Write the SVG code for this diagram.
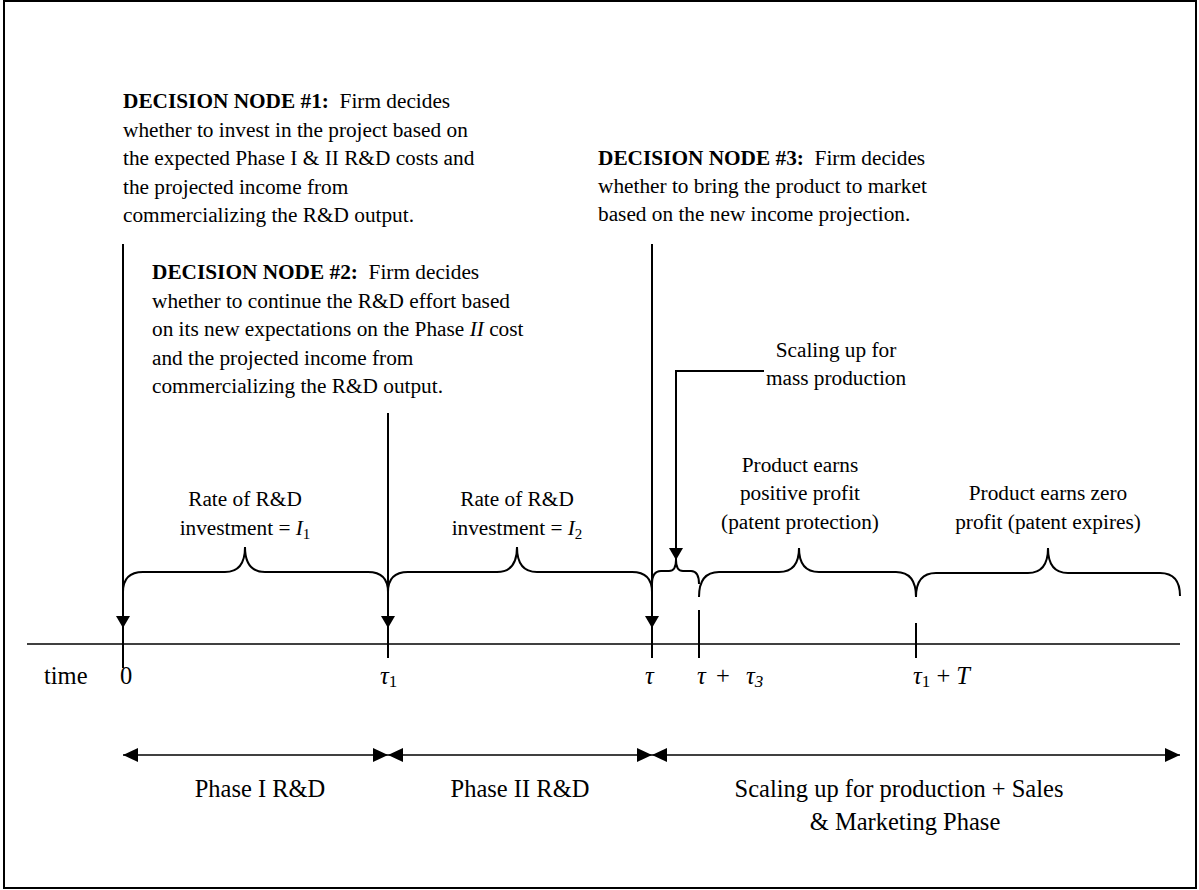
<svg xmlns="http://www.w3.org/2000/svg" width="1199" height="890" viewBox="0 0 1199 890">
<defs>
<style>
text{font-family:"Liberation Serif","Times New Roman",serif;fill:#000;white-space:pre}
.n{font-size:21.3px}
.b{font-weight:bold}
.big{font-size:24.5px}
.c{text-anchor:middle}
.ln{stroke:#000;stroke-width:2;fill:none}
.ax{stroke:#000;stroke-width:1.6;fill:none}
</style>
<marker id="ah" viewBox="0 0 12 14" refX="12" refY="7" markerWidth="12" markerHeight="14" markerUnits="userSpaceOnUse" orient="auto">
<path d="M0,0 L12,7 L0,14 Z" fill="#000"/>
</marker>
<marker id="ah2" viewBox="0 0 15 14" refX="15" refY="7" markerWidth="15" markerHeight="14" markerUnits="userSpaceOnUse" orient="auto-start-reverse">
<path d="M0,0 L15,7 L0,14 Z" fill="#000"/>
</marker>
</defs>
<rect x="4" y="1" width="1192" height="887" fill="#fff" stroke="#000" stroke-width="2"/>

<g id="node1">
<text class="n" x="123" y="108" xml:space="preserve"><tspan class="b">DECISION NODE #1:</tspan>  Firm decides</text>
<text class="n" x="123" y="137">whether to invest in the project based on</text>
<text class="n" x="123" y="165">the expected Phase I &amp; II R&amp;D costs and</text>
<text class="n" x="123" y="194">the projected income from</text>
<text class="n" x="123" y="222">commercializing the R&amp;D output.</text>
</g>
<g id="node2">
<text class="n" x="152" y="279" xml:space="preserve"><tspan class="b">DECISION NODE #2:</tspan>  Firm decides</text>
<text class="n" x="152" y="308">whether to continue the R&amp;D effort based</text>
<text class="n" x="152" y="336" xml:space="preserve">on its new expectations on the Phase <tspan font-style="italic">II</tspan> cost</text>
<text class="n" x="152" y="365">and the projected income from</text>
<text class="n" x="152" y="393">commercializing the R&amp;D output.</text>
</g>
<g id="node3">
<text class="n" x="598" y="165" xml:space="preserve"><tspan class="b">DECISION NODE #3:</tspan>  Firm decides</text>
<text class="n" x="598" y="193">whether to bring the product to market</text>
<text class="n" x="598" y="221">based on the new income projection.</text>
</g>
<g id="scaling-label">
<text class="n c" x="836" y="357">Scaling up for</text>
<text class="n c" x="836" y="385">mass production</text>
</g>
<g id="brace-labels">
<text class="n c" x="245" y="506">Rate of R&amp;D</text>
<text class="n c" x="245" y="535" xml:space="preserve">investment = <tspan font-style="italic">I</tspan><tspan font-size="15" dy="4">1</tspan></text>
<text class="n c" x="517" y="506">Rate of R&amp;D</text>
<text class="n c" x="517" y="535" xml:space="preserve">investment = <tspan font-style="italic">I</tspan><tspan font-size="15" dy="4">2</tspan></text>
<text class="n c" x="800" y="472">Product earns</text>
<text class="n c" x="800" y="500">positive profit</text>
<text class="n c" x="800" y="529">(patent protection)</text>
<text class="n c" x="1048" y="500">Product earns zero</text>
<text class="n c" x="1048" y="529">profit (patent expires)</text>
</g>
<g id="braces">
<path class="ln" d="M123,592 Q123,572 143,572 L225,572 Q245,572 245,547 Q245,572 265,572 L368,572 Q388,572 388,592"/>
<path class="ln" d="M388,592 Q388,572 408,572 L497,572 Q517,572 517,547 Q517,572 537,572 L632,572 Q652,572 652,592"/>
<path class="ln" d="M652,584 Q652,571 661,571 L669,571 Q676,571 676,560 Q676,571 683,571 L691,571 Q699,571 699,584"/>
<path class="ln" d="M699,597 Q699,572 719,572 L779,572 Q799,572 799,548 Q799,572 819,572 L896,572 Q916,572 916,597"/>
<path class="ln" d="M916,597 Q916,573 936,573 L1028,573 Q1048,573 1048,548 Q1048,573 1068,573 L1160,573 Q1180,573 1180,596"/>
</g>
<g id="timeline">
<line class="ax" x1="27" y1="644" x2="1180" y2="644"/>
<line class="ln" x1="123" y1="628" x2="123" y2="668"/>
<line class="ln" x1="388" y1="628" x2="388" y2="658"/>
<line class="ln" x1="652" y1="628" x2="652" y2="658"/>
<line class="ln" x1="699" y1="610" x2="699" y2="658"/>
<line class="ln" x1="916" y1="623" x2="916" y2="658"/>
<text class="big" x="44" y="684">time</text>
<text class="big" x="120" y="684">0</text>
<text class="big" x="380" y="684"><tspan font-style="italic">τ</tspan><tspan font-size="17" dy="3">1</tspan></text>
<text class="big" x="645" y="684" font-style="italic">τ</text>
<text class="big" x="697" y="684" font-style="italic">τ</text>
<text class="big" x="716" y="684">+</text>
<text class="big" x="746" y="684" font-style="italic">τ<tspan font-size="17" dy="3">3</tspan></text>
<text class="big" x="913" y="684" xml:space="preserve"><tspan font-style="italic">τ</tspan><tspan font-size="17" dy="3">1</tspan><tspan dy="-3"> + </tspan><tspan font-style="italic">T</tspan></text>
</g>
<g id="connectors">
<line class="ln" x1="123" y1="244" x2="123" y2="628" marker-end="url(#ah)"/>
<line class="ln" x1="388" y1="413" x2="388" y2="628" marker-end="url(#ah)"/>
<line class="ln" x1="652" y1="244" x2="652" y2="628" marker-end="url(#ah)"/>
<polyline class="ln" points="764,371 676,371 676,560" marker-end="url(#ah)"/>
<line class="ax" x1="123" y1="755" x2="388" y2="755" marker-start="url(#ah2)" marker-end="url(#ah2)"/>
<line class="ax" x1="388" y1="755" x2="652" y2="755" marker-start="url(#ah2)" marker-end="url(#ah2)"/>
<line class="ax" x1="652" y1="755" x2="1180" y2="755" marker-start="url(#ah2)" marker-end="url(#ah2)"/>
</g>
<g id="phase-labels">
<text class="big c" x="260" y="797">Phase I R&amp;D</text>
<text class="big c" x="520" y="797">Phase II R&amp;D</text>
<text class="big c" x="899" y="797">Scaling up for production + Sales</text>
<text class="big c" x="905" y="830">&amp; Marketing Phase</text>
</g>
</svg>
